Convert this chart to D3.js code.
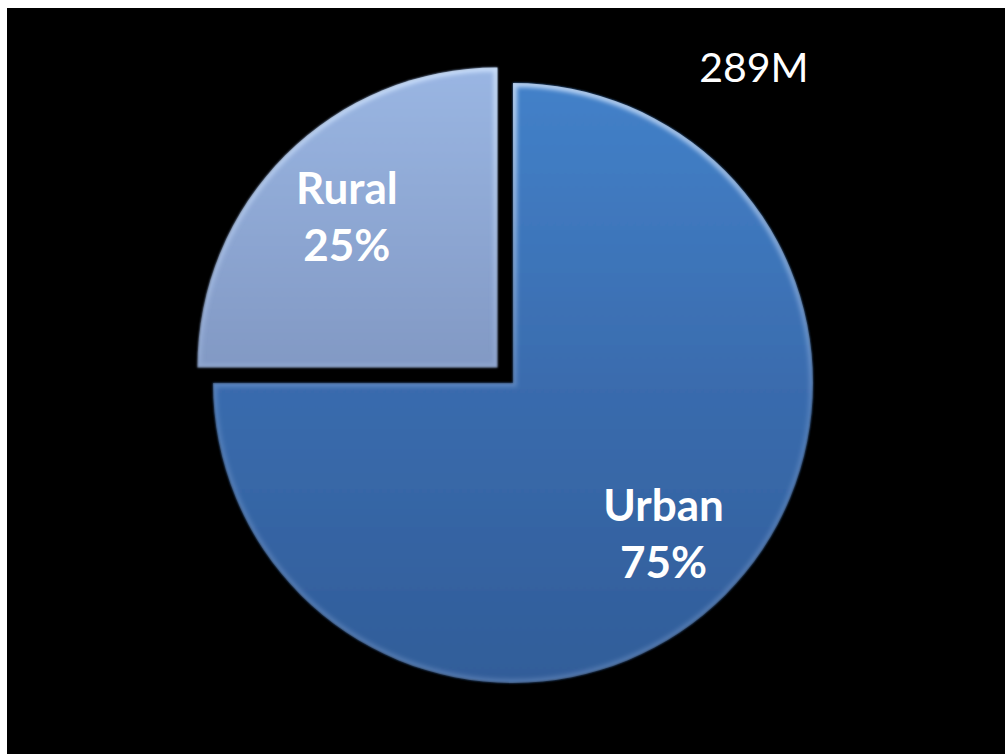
<!DOCTYPE html>
<html>
<head>
<meta charset="utf-8">
<script src="https://cdn.jsdelivr.net/npm/d3@7"></script>
<style>
  html, body { margin: 0; padding: 0; background: #ffffff; }
  svg { display: block; }
</style>
</head>
<body>
<svg id="chart" width="1005" height="754"></svg>
<script>
// Population split by area type
const categories = ["Urban", "Rural"];
const shares = [75, 25];
const totalLabel = "289M";

const W = 1005, H = 754;
const svg = d3.select("#chart");

// black slide panel inside a thin white margin
svg.append("rect").attr("x", 7).attr("y", 8).attr("width", W - 7).attr("height", H - 8).attr("fill", "#000");

const cx = 513, cy = 383, R = 300;
const explodeBy = 22;   // how far the smaller slice is pulled out
const labelR = 213;

const defs = svg.append("defs");

const fills = {
  Urban: ["#4381c9", "#3a6cae", "#315d99"],
  Rural: ["#9ab6e3", "#8299c4", "#6d81a6"]
};
categories.forEach(c => {
  const g = defs.append("linearGradient").attr("id", "fill-" + c)
    .attr("gradientUnits", "userSpaceOnUse")
    .attr("x1", 0).attr("y1", -R).attr("x2", 0).attr("y2", R);
  g.append("stop").attr("offset", "0%").attr("stop-color", fills[c][0]);
  g.append("stop").attr("offset", "50%").attr("stop-color", fills[c][1]);
  g.append("stop").attr("offset", "100%").attr("stop-color", fills[c][2]);
});

// soft bevel highlight: brighter at the top, fading down
const hl = defs.append("linearGradient").attr("id", "bevel")
  .attr("gradientUnits", "userSpaceOnUse")
  .attr("x1", 0).attr("y1", -R).attr("x2", 0).attr("y2", R);
hl.append("stop").attr("offset", "0%").attr("stop-color", "#d4e7ff").attr("stop-opacity", 0.8);
hl.append("stop").attr("offset", "55%").attr("stop-color", "#b0c8ee").attr("stop-opacity", 0.2);
hl.append("stop").attr("offset", "100%").attr("stop-color", "#9cb6e0").attr("stop-opacity", 0.3);

const blur = defs.append("filter").attr("id", "soft").attr("x", "-10%").attr("y", "-10%").attr("width", "120%").attr("height", "120%");
blur.append("feGaussianBlur").attr("stdDeviation", 2);

const edge = defs.append("filter").attr("id", "edge").attr("x", "-10%").attr("y", "-10%").attr("width", "120%").attr("height", "120%");
edge.append("feGaussianBlur").attr("stdDeviation", 0.8);

const data = categories.map((c, i) => ({ name: c, value: shares[i] }));
const pie = d3.pie().sort(null).value(d => d.value).startAngle(0).endAngle(2 * Math.PI);
const arcs = pie(data);

const arc = d3.arc().innerRadius(0).outerRadius(R);
const labelArc = d3.arc().innerRadius(labelR).outerRadius(labelR);

const root = svg.append("g").attr("transform", `translate(${cx},${cy})`);

arcs.forEach((a, i) => {
  const mid = (a.startAngle + a.endAngle) / 2;
  const off = a.data.value < 50 ? explodeBy : 0;
  const dx = Math.sin(mid) * off, dy = -Math.cos(mid) * off;
  const g = root.append("g").attr("transform", `translate(${dx},${dy})`);

  const clipId = "clip-" + a.data.name;
  defs.append("clipPath").attr("id", clipId)
    .attr("transform", `translate(${cx + dx},${cy + dy})`)
    .append("path").attr("d", arc(a));

  g.append("path")
    .attr("d", arc(a))
    .attr("fill", `url(#fill-${a.data.name})`)
    .attr("filter", "url(#edge)");

  // inner rim highlight, clipped to the slice
  g.append("g").attr("clip-path", `url(#${clipId})`)
    .attr("transform", `translate(${-cx - dx},${-cy - dy})`)
    .append("path")
    .attr("transform", `translate(${cx + dx},${cy + dy})`)
    .attr("d", arc(a))
    .attr("fill", "none")
    .attr("stroke", "url(#bevel)")
    .attr("stroke-width", 8)
    .attr("filter", "url(#soft)");

  const [lx, ly] = labelArc.centroid(a);
  const t = g.append("text")
    .attr("text-anchor", "middle")
    .attr("font-family", "Lato, 'Open Sans', sans-serif")
    .attr("font-weight", 700)
    .attr("font-size", 44)
    .attr("fill", "#ffffff");
  t.append("tspan").attr("x", lx).attr("y", ly - 13).text(a.data.name);
  t.append("tspan").attr("x", lx).attr("y", ly + 44).text(a.data.value + "%");
});

svg.append("text")
  .attr("x", 754).attr("y", 82)
  .attr("text-anchor", "middle")
  .attr("font-family", "Lato, 'Open Sans', sans-serif")
  .attr("font-size", 41)
  .attr("fill", "#ffffff")
  .text(totalLabel);
</script>
</body>
</html>
